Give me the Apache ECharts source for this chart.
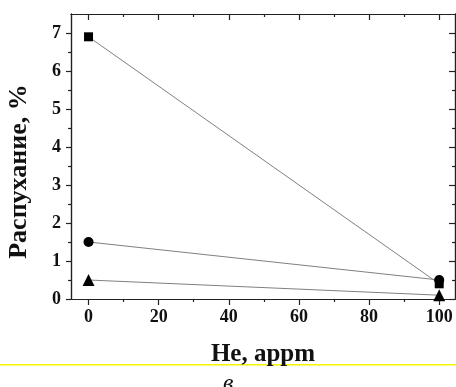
<!DOCTYPE html>
<html>
<head>
<meta charset="utf-8">
<script src="https://cdn.jsdelivr.net/npm/echarts@6/dist/echarts.min.js"></script>
<style>
  html, body { margin: 0; padding: 0; background: #fff; }
  #box { width: 456px; height: 387px; }
</style>
</head>
<body>
<div id="box"></div>
<script>
var heliumValues = [0, 100];
var squareValues = [6.9, 0.4];
var circleValues = [1.5, 0.5];
var triangleValues = [0.5, 0.1];

var xMajor = [0, 20, 40, 60, 80, 100];
var xMinor = [10, 30, 50, 70, 90];
var yMajor = [0, 1, 2, 3, 4, 5, 6, 7];
var yMinor = [0.5, 1.5, 2.5, 3.5, 4.5, 5.5, 6.5];

var serif = 'Liberation Serif';
var axisColor = '#222';

function pairs(ys) {
    return heliumValues.map(function(x, i) { return [x, ys[i]]; });
}

// one axis per tick set: major/minor, bottom/top, left/right
function xAx(pos, ticks, len, inside, labels) {
    return {
        type: 'value', position: pos, min: -5, max: 104.5, gridIndex: 0,
        splitLine: { show: false },
        axisLine: { show: true, onZero: false, lineStyle: { color: axisColor, width: 1.2 } },
        axisTick: { show: true, inside: inside, length: len, customValues: ticks,
            lineStyle: { color: axisColor, width: 1.2 } },
        axisLabel: labels ? { show: true, customValues: ticks, margin: 9,
            fontFamily: serif, fontWeight: 'bold', fontSize: 18, color: '#111' } : { show: false }
    };
}
function yAx(pos, ticks, len, inside, labels) {
    return {
        type: 'value', position: pos, min: 0, max: 7.5, gridIndex: 0,
        splitLine: { show: false },
        axisLine: { show: true, onZero: false, lineStyle: { color: axisColor, width: 1.2 } },
        axisTick: { show: true, inside: inside, length: len, customValues: ticks,
            lineStyle: { color: axisColor, width: 1.2 } },
        axisLabel: labels ? { show: true, customValues: ticks, margin: 10,
            fontFamily: serif, fontWeight: 'bold', fontSize: 18, color: '#111' } : { show: false }
    };
}

var chart = echarts.init(document.getElementById('box'));

var xAxes = [
    xAx('bottom', xMajor, 6, false, true),
    xAx('bottom', xMinor, 3, false, false),
    xAx('top', xMajor, 6, true, false),
    xAx('top', xMinor, 3, true, false)
];
xAxes[0].name = 'He, appm';
xAxes[0].nameLocation = 'middle';
xAxes[0].nameGap = 43;
xAxes[0].nameTextStyle = { fontFamily: serif, fontWeight: 'bold', fontSize: 25, color: '#111',
    verticalAlign: 'top' };

var yAxes = [
    yAx('left', yMajor, 5, false, true),
    yAx('left', yMinor, 3, false, false),
    yAx('right', yMajor, 6, true, false),
    yAx('right', yMinor, 3, true, false)
];
yAxes[0].name = 'Распухание, %';
yAxes[0].nameLocation = 'middle';
yAxes[0].nameGap = 39;
yAxes[0].nameTextStyle = { fontFamily: serif, fontWeight: 'bold', fontSize: 26, color: '#111',
    padding: [0, 30, 0, 0] };

function line(name, ys, symbol, size) {
    return {
        name: name, type: 'line', data: pairs(ys),
        xAxisIndex: 0, yAxisIndex: 0,
        symbol: symbol, symbolSize: size,
        itemStyle: { color: '#000' },
        lineStyle: { color: '#808080', width: 1 },
        animation: false
    };
}

var option = {
    backgroundColor: '#fff',
    animation: false,
    grid: { left: 71, right: 1, top: 14, bottom: 88, containLabel: false, outerBoundsMode: 'none' },
    xAxis: xAxes,
    yAxis: yAxes,
    series: [
        line('square', squareValues, 'rect', 9),
        line('circle', circleValues, 'circle', 10),
        line('triangle', triangleValues, 'triangle', 12)
    ],
    graphic: [
        { type: 'rect', left: 0, top: 364, shape: { width: 456, height: 1.5 },
          style: { fill: '#f5f500' }, silent: true },
        { type: 'text', left: 223, top: 372,
          style: { text: 'в', font: 'italic 24px "Liberation Serif"', fill: '#111' } }
    ]
};
chart.setOption(option);
</script>
</body>
</html>
